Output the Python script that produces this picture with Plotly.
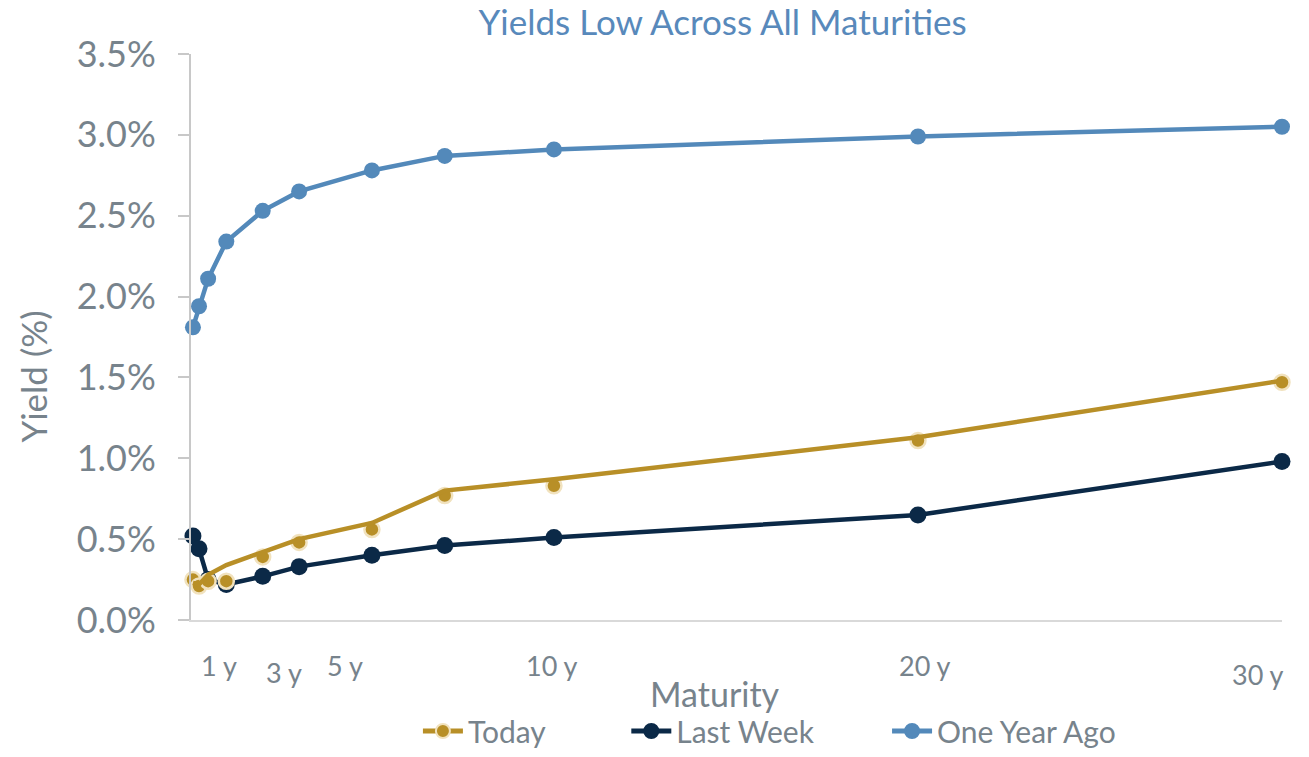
import plotly.graph_objects as go

# Treasury maturities in years (1m, 3m, 6m, 1y, 2y, 3y, 5y, 7y, 10y, 20y, 30y)
maturity_years = [1/12, 0.25, 0.5, 1, 2, 3, 5, 7, 10, 20, 30]

# Yields in percent
today_points = [0.25, 0.21, 0.24, 0.24, 0.39, 0.48, 0.56, 0.77, 0.83, 1.11, 1.47]
today_curve = [0.23, 0.22, 0.28, 0.34, 0.42, 0.50, 0.60, 0.80, 0.87, 1.13, 1.48]
last_week = [0.52, 0.44, 0.25, 0.22, 0.27, 0.33, 0.40, 0.46, 0.51, 0.65, 0.98]
one_year_ago = [1.81, 1.94, 2.11, 2.34, 2.53, 2.65, 2.78, 2.87, 2.91, 2.99, 3.05]

# Maturity labels drawn under the axis
maturity_labels = ["1 y", "3 y", "5 y", "10 y", "20 y", "30 y"]
label_x = [0.8, 2.58, 4.26, 9.95, 20.19, 29.34]
label_dy = [0, -7, 0, 0, 0, -9]

y_ticks = [0, 0.5, 1.0, 1.5, 2.0, 2.5, 3.0, 3.5]
y_tick_text = ["0.0%", "0.5%", "1.0%", "1.5%", "2.0%", "2.5%", "3.0%", "3.5%"]

GOLD = "#B88F27"
GOLD_HALO = "#F1E2BE"
NAVY = "#0B2947"
STEEL = "#5389BA"
GREY = "#77838C"
AXIS = "#C8C8C8"
FONT = "Source Sans Pro, Lato, Noto Sans, sans-serif"

fig = go.Figure()

fig.add_trace(go.Scatter(
    x=maturity_years, y=one_year_ago, mode="lines+markers", name="One Year Ago",
    line=dict(color=STEEL, width=4.5), marker=dict(size=16, color=STEEL),
    cliponaxis=False, showlegend=False,
))
fig.add_trace(go.Scatter(
    x=maturity_years, y=last_week, mode="lines+markers", name="Last Week",
    line=dict(color=NAVY, width=4.5), marker=dict(size=17, color=NAVY),
    cliponaxis=False, showlegend=False,
))
fig.add_trace(go.Scatter(
    x=maturity_years, y=today_points, mode="markers", name="Today",
    marker=dict(size=15, color=GOLD, line=dict(color=GOLD_HALO, width=2.5)),
    cliponaxis=False, showlegend=False,
))
fig.add_trace(go.Scatter(
    x=maturity_years, y=today_curve, mode="lines", name="Today",
    line=dict(color=GOLD, width=4.5), cliponaxis=False, showlegend=False,
))

# Legend entries, each in its own legend box so they can be spaced freely
legend_items = [("Today", GOLD, GOLD_HALO, "legend", 0.208),
                ("Last Week", NAVY, NAVY, "legend2", 0.399),
                ("One Year Ago", STEEL, STEEL, "legend3", 0.638)]
for name, color, halo, lg, _ in legend_items:
    fig.add_trace(go.Scatter(
        x=[None], y=[None], mode="lines+markers", name=name, legend=lg,
        line=dict(color=color, width=5),
        marker=dict(size=14, color=color, line=dict(color=halo, width=2)),
    ))

for text, x, dy in zip(maturity_labels, label_x, label_dy):
    fig.add_annotation(
        x=x, y=0, xref="x", yref="paper", yanchor="middle", xanchor="center",
        yshift=-45 + dy, text=text, showarrow=False,
        font=dict(family=FONT, size=27, color=GREY),
    )

fig.add_annotation(
    x=0.48, y=0, xref="paper", yref="paper", yshift=-73, yanchor="middle",
    text="Maturity", showarrow=False, font=dict(family=FONT, size=34, color=GREY),
)
fig.add_annotation(
    x=0, y=0.43, xref="paper", yref="paper", xshift=-158, xanchor="center",
    yanchor="middle", textangle=-90, text="Yield (%)", showarrow=False,
    font=dict(family=FONT, size=35, color=GREY),
)
fig.add_annotation(
    x=0, y=0, xref="paper", yref="paper", xshift=8, yshift=-146,
    xanchor="left", yanchor="top", text="Source: FactSet", showarrow=False,
    font=dict(family=FONT, size=22, color="#222222"),
)

legend_style = dict(orientation="h", xanchor="left", y=0, yref="container",
                    yanchor="bottom", font=dict(family=FONT, size=30, color=GREY),
                    itemwidth=40, bgcolor="rgba(0,0,0,0)", borderwidth=0)

fig.update_layout(
    width=1309, height=757,
    margin=dict(l=191, r=27, t=54, b=137),
    paper_bgcolor="white", plot_bgcolor="white",
    title=dict(text="Yields Low Across All Maturities", x=0.552, xanchor="center",
               y=0.97, yanchor="middle",
               font=dict(family=FONT, size=35, color="#5889BB")),
    legend=dict(x=legend_items[0][4], **legend_style),
    legend2=dict(x=legend_items[1][4], **legend_style),
    legend3=dict(x=legend_items[2][4], **legend_style),
    font=dict(family=FONT, color=GREY),
    showlegend=True,
)

fig.update_xaxes(
    range=[0.03, 30], showgrid=False, zeroline=False, showticklabels=False,
    ticks="", showline=True, linecolor="#D9D9D9", linewidth=2,
)
fig.update_yaxes(
    range=[0, 3.5], tickvals=y_ticks, ticktext=y_tick_text, showgrid=False,
    zeroline=False, showline=True, linecolor=AXIS, linewidth=2,
    ticks="outside", ticklen=11, tickwidth=2, tickcolor=AXIS,
    tickfont=dict(family=FONT, size=36, color=GREY), ticklabelstandoff=15,
)

fig.write_html("out.html")
